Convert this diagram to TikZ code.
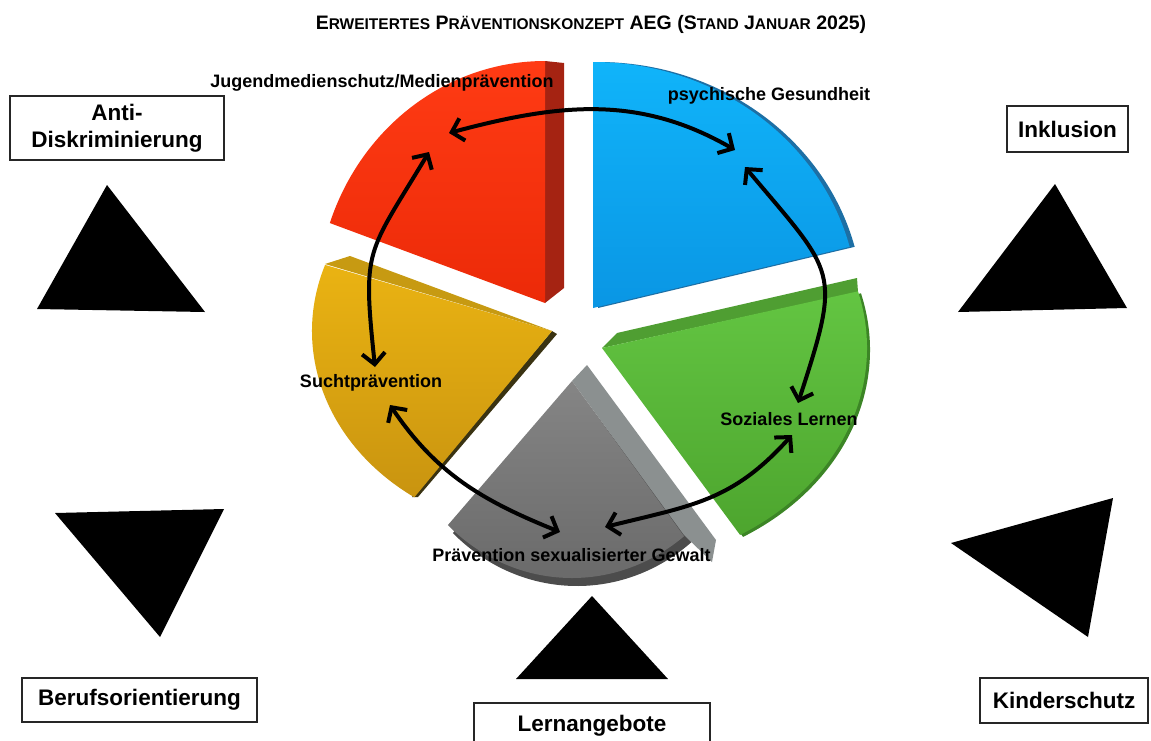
\documentclass[tikz,border=0pt]{standalone}
\usepackage{fontspec}
\setmainfont{Liberation Sans}
\usetikzlibrary{arrows.meta}
\definecolor{redA}{HTML}{FF3B14}\definecolor{redB}{HTML}{EC2A08}\definecolor{redS}{HTML}{A52312}
\definecolor{bluA}{HTML}{10B4FA}\definecolor{bluB}{HTML}{0A96E4}\definecolor{bluR}{HTML}{1D6FA5}
\definecolor{grnA}{HTML}{63C542}\definecolor{grnB}{HTML}{4DA52E}\definecolor{grnS}{HTML}{4F9E32}\definecolor{grnR}{HTML}{3C8526}
\definecolor{gryA}{HTML}{858585}\definecolor{gryB}{HTML}{686868}\definecolor{gryS}{HTML}{8B9090}\definecolor{gryR}{HTML}{4C4C4C}
\definecolor{ylwA}{HTML}{EAB312}\definecolor{ylwB}{HTML}{C99410}\definecolor{ylwS}{HTML}{C79A12}\definecolor{ylwD}{HTML}{3A3312}
\newcommand\tsc[1]{{\fontsize{15.5}{16}\selectfont #1}}
\begin{document}
\begin{tikzpicture}[x=1pt,y=1pt,
  lbl/.style={font=\fontsize{18}{20}\selectfont\bfseries, inner sep=0pt},
  boxlbl/.style={draw=black!85, line width=1.2pt, font=\fontsize{22.5}{27}\selectfont\bfseries, align=center, inner sep=0pt},
  tri/.style={fill=black},
  link/.style={line width=4pt, {Straight Barb[length=11pt,width=23pt]}-{Straight Barb[length=11pt,width=23pt]}},
]
\useasboundingbox (0,0) rectangle (1151,-740);

% title
\node[font=\fontsize{19.5}{20}\selectfont\bfseries, inner sep=0pt] (title) at (591,-24)
  {E\tsc{RWEITERTES} P\tsc{RÄVENTIONSKONZEPT} AEG (S\tsc{TAND} J\tsc{ANUAR} 2025)};

% ---- pie ----
% red
\fill[redS] (545,-61) -- (564,-63) -- (564,-288) -- (545,-303) -- cycle;
\path[top color=redA, bottom color=redB] (545,-303) -- ++(90:228pt and 242pt)
  arc[start angle=90, end angle=160.7, x radius=228pt, y radius=242pt] -- cycle;
% blue
\fill[bluR] (598,-308) -- ++(14.4:265pt and 246pt)
  arc[start angle=14.4, end angle=90, x radius=265pt, y radius=246pt] -- cycle;
\path[top color=bluA, bottom color=bluB] (593,-308) -- ++(14.4:265pt and 246pt)
  arc[start angle=14.4, end angle=90, x radius=265pt, y radius=246pt] -- cycle;
% green
\fill[grnR] (605,-350) -- ++(-58.6:265pt and 219pt)
  arc[start angle=-58.6, end angle=15, x radius=265pt, y radius=219pt] -- cycle;
\fill[grnS] (602,-348) -- (617,-333) -- (857,-278) -- (858,-292) -- cycle;
\path[top color=grnA, bottom color=grnB] (602,-348) -- ++(-58.6:265pt and 219pt)
  arc[start angle=-58.6, end angle=15, x radius=265pt, y radius=219pt] -- cycle;
% gray
\fill[gryR] (577,-389) -- ++(227:182pt and 197pt)
  arc[start angle=227, end angle=309, x radius=182pt, y radius=197pt] -- cycle;
\fill[gryS] (572,-381) -- (587,-365) -- (716,-540) -- (712,-562) -- (684,-535) -- cycle;
\path[top color=gryA, bottom color=gryB] (572,-381) -- ++(227:182pt and 197pt)
  arc[start angle=227, end angle=308, x radius=182pt, y radius=197pt] -- cycle;
% yellow
\fill[ylwD] (552,-331) -- (557,-334) -- (418,-497) -- (412,-497) -- cycle;
\path[top color=ylwA, bottom color=ylwB] (552,-331) -- ++(161:240pt and 203pt)
  arc[start angle=161, end angle=235, x radius=240pt, y radius=203pt] -- cycle;
\fill[ylwS] (325,-264) -- (350,-256) -- (552,-331) -- cycle;

% ---- slice labels ----
\node[lbl] (jug) at (382,-83) {Jugendmedienschutz/Medienprävention};
\node[lbl] (psy) at (769,-96) {psychische Gesundheit};
\node[lbl] (sucht) at (371,-383) {Suchtprävention};
\node[lbl] (soz) at (789,-419) {Soziales Lernen};
\node[lbl] (sex) at (571.5,-555) {Prävention sexualisierter Gewalt};

% ---- arrows ----
\coordinate (rA) at (449,-133); \coordinate (bA) at (735,-150);
\coordinate (rB) at (429,-152); \coordinate (yA) at (375,-367);
\coordinate (bB) at (745,-167); \coordinate (gA) at (798,-403);
\coordinate (yB) at (390,-405); \coordinate (sA) at (560,-532);
\coordinate (gB) at (792,-435); \coordinate (sB) at (605,-527);
\draw[link] (rA) to[out=15,in=150] (bA);
\draw[link] (rB) to[out=239,in=96,looseness=1.4] (yA);
\draw[link] (bB) to[out=-50,in=72,looseness=1.5] (gA);
\draw[link] (yB) to[out=-56,in=158] (sA);
\draw[link] (gB) to[out=228,in=14,looseness=1.1] (sB);

% ---- triangles ----
\fill[tri] (107,-185) -- (37,-309) -- (205,-312) -- cycle;
\fill[tri] (1055,-184) -- (958,-312) -- (1127,-308) -- cycle;
\fill[tri] (55,-513) -- (224,-509) -- (160,-637) -- cycle;
\fill[tri] (592,-596) -- (516,-679) -- (668,-679) -- cycle;
\fill[tri] (951,-543) -- (1113,-498) -- (1088,-637) -- cycle;

% ---- boxes ----
\node[boxlbl, minimum width=214pt, minimum height=64pt] (anti) at (117,-128) {Anti-\\Diskriminierung};
\node[boxlbl, minimum width=121pt, minimum height=46pt] (inkl) at (1067.5,-129) {Inklusion};
\node[boxlbl, minimum width=235pt, minimum height=44pt] (beruf) at (139.5,-700) {Berufsorientierung};
\node[boxlbl, minimum width=236pt, minimum height=46pt] (lern) at (592,-726) {Lernangebote};
\node[boxlbl, minimum width=168pt, minimum height=45pt] (kind) at (1064,-700.5) {Kinderschutz};
\end{tikzpicture}
\end{document}
